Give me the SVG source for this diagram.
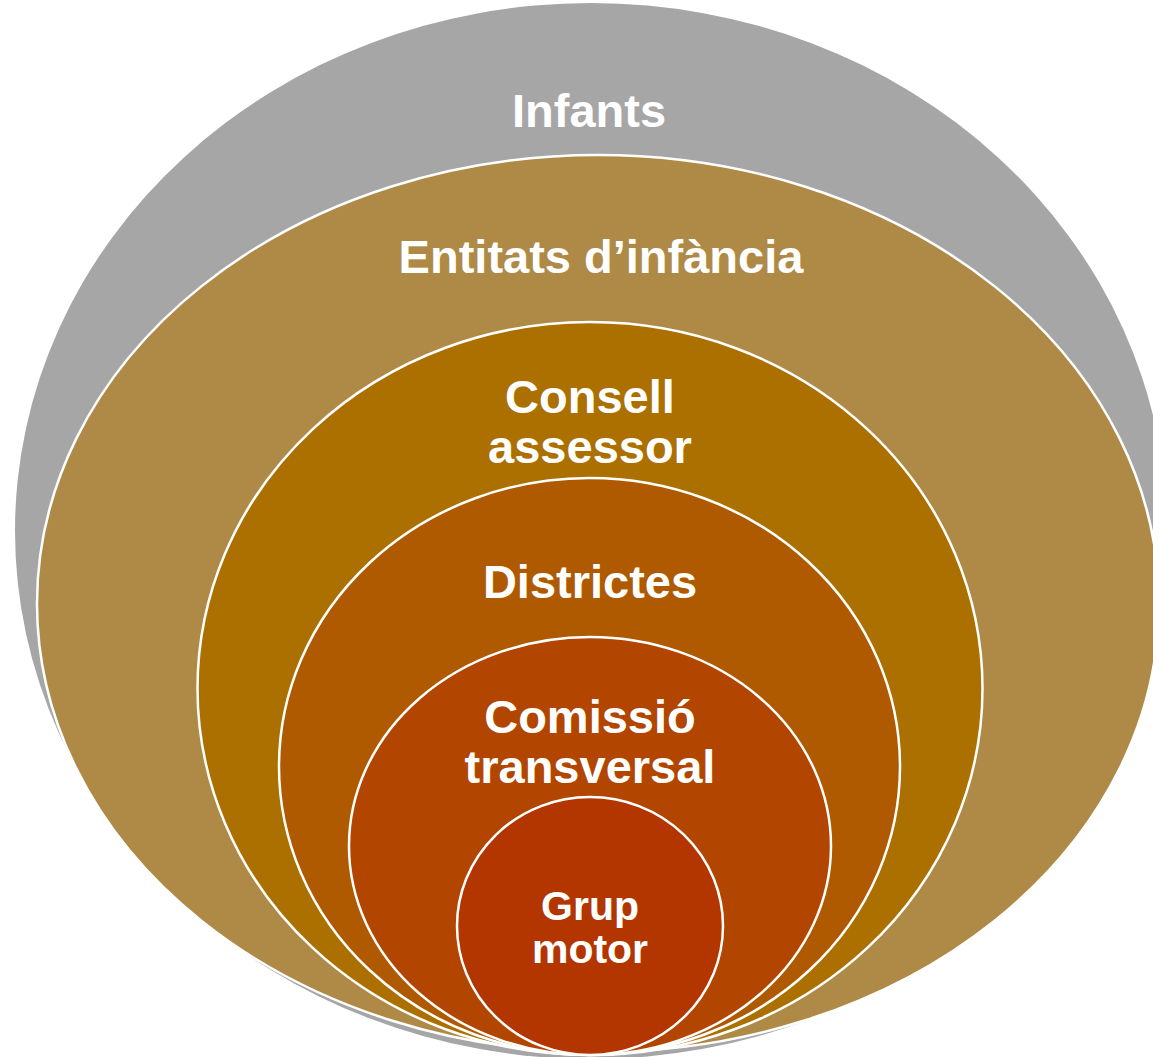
<svg xmlns="http://www.w3.org/2000/svg" width="1153" height="1057" viewBox="0 0 1153 1057">
<style>
.ring{stroke:#FFFFFF;stroke-width:2.5}
.lbl{font-family:"Liberation Sans",Arial,sans-serif;font-weight:bold;fill:#FFFFFF;text-anchor:middle;font-size:47px}
.sm{font-size:41px}
</style>
<rect width="1153" height="1057" fill="#FFFFFF"/>
<g id="infants">
<ellipse cx="591" cy="531" rx="576" ry="528" fill="#A6A6A6"/>
<text class="lbl" x="589" y="127">Infants</text>
</g>
<g id="entitats">
<ellipse class="ring" cx="598" cy="603.5" rx="561" ry="448.5" fill="#AE8A46"/>
<text class="lbl" x="601" y="273">Entitats d’infància</text>
</g>
<g id="consell">
<ellipse class="ring" cx="590" cy="688.5" rx="392.5" ry="366.5" fill="#AB7000"/>
<text class="lbl" x="590" y="413">Consell</text>
<text class="lbl" x="590" y="463">assessor</text>
</g>
<g id="districtes">
<ellipse class="ring" cx="589.5" cy="766.5" rx="310.5" ry="288.5" fill="#AF5A00"/>
<text class="lbl" x="590" y="598">Districtes</text>
</g>
<g id="comissio">
<ellipse class="ring" cx="590" cy="846" rx="241" ry="209" fill="#B24500"/>
<text class="lbl" x="590" y="733">Comissió</text>
<text class="lbl" x="590" y="783">transversal</text>
</g>
<g id="grup">
<ellipse class="ring" cx="590" cy="926" rx="133" ry="129" fill="#B33500"/>
<text class="lbl sm" x="590" y="920">Grup</text>
<text class="lbl sm" x="590" y="963">motor</text>
</g>
<g id="connectors"/>
</svg>
